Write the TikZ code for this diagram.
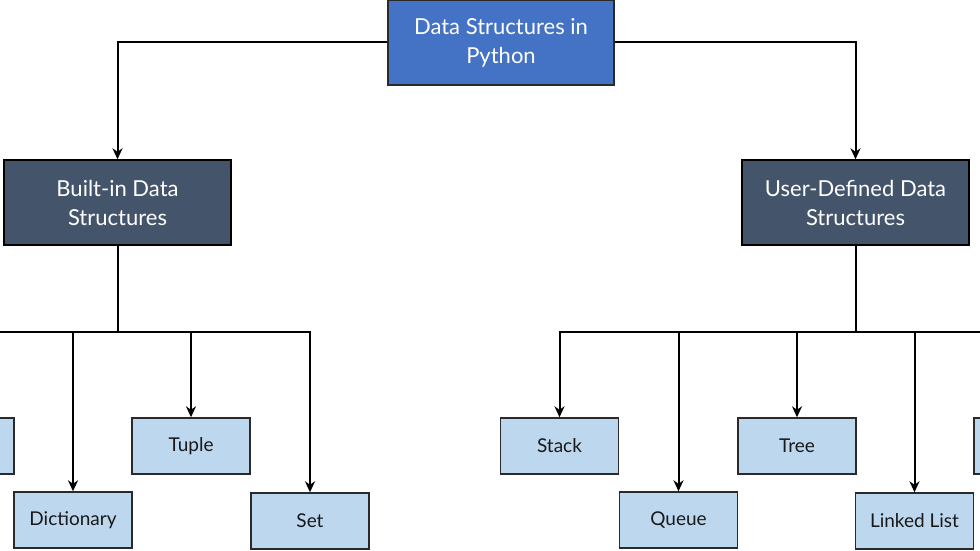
\documentclass[tikz,border=0pt]{standalone}
\usepackage{fontspec}
\setmainfont{Lato}
\usetikzlibrary{arrows.meta}
\definecolor{topblue}{HTML}{4472C4}
\definecolor{slate}{HTML}{44546A}
\definecolor{leaf}{HTML}{BDD7EE}
\definecolor{edgegray}{HTML}{2A2A2A}
\tikzset{
  topbox/.style={draw=edgegray, line width=1.4pt, fill=topblue, text=white, minimum width=226pt, minimum height=85pt, align=center, font=\fontsize{22}{29}\selectfont, inner sep=0pt},
  midbox/.style={draw=black, line width=1.4pt, fill=slate, text=white, minimum width=227pt, minimum height=85pt, align=center, font=\fontsize{22}{29}\selectfont, inner sep=0pt},
  leafbox/.style={draw=edgegray, line width=1.4pt, fill=leaf, text=black!90, minimum width=118pt, minimum height=56pt, align=center, font=\fontsize{19}{22}\selectfont, inner sep=0pt},
  conn/.style={line width=2pt, black},
  arr/.style={conn, -{Stealth[length=11pt, width=10pt, inset=3.5pt]}}
}
\begin{document}
\begin{tikzpicture}[x=1pt, y=-1pt]
\useasboundingbox (0,0) rectangle (980,551);
% top
\node[topbox] (root) at (501,42.5) {Data Structures in\\Python};
\node[midbox] (bi) at (117.5,202.5) {Built-in Data\\Structures};
\node[midbox] (ud) at (855.5,202.5) {User-Defined Data\\Structures};
% leaves left
\node[leafbox] (list) at (-45,446) {};
\node[leafbox] (dict) at (73,520) {Dictionary};
\node[leafbox] (tuple) at (191,446) {Tuple};
\node[leafbox] (set) at (310,521) {Set};
% leaves right
\node[leafbox] (stack) at (559.5,446) {Stack};
\node[leafbox] (queue) at (678.5,520) {Queue};
\node[leafbox] (tree) at (797,446) {Tree};
\node[leafbox] (llist) at (914.5,521) {Linked List};
\node[leafbox] (hmap) at (1033,446) {};
% junctions
\coordinate (bj) at (117.5,332);
\coordinate (uj) at (855.5,332);
% connectors
\draw[arr] (root.west) -| (bi.north);
\draw[arr] (root.east) -| (ud.north);
\draw[conn] (bi.south) -- (bj);
\draw[conn] (ud.south) -- (uj);
\draw[arr] (bj) -| (list.north);
\draw[arr] (bj) -| (dict.north);
\draw[arr] (bj) -| (tuple.north);
\draw[arr] (bj) -| (set.north);
\draw[arr] (uj) -| (stack.north);
\draw[arr] (uj) -| (queue.north);
\draw[arr] (uj) -| (tree.north);
\draw[arr] (uj) -| (llist.north);
\draw[arr] (uj) -| (hmap.north);
\end{tikzpicture}
\end{document}
